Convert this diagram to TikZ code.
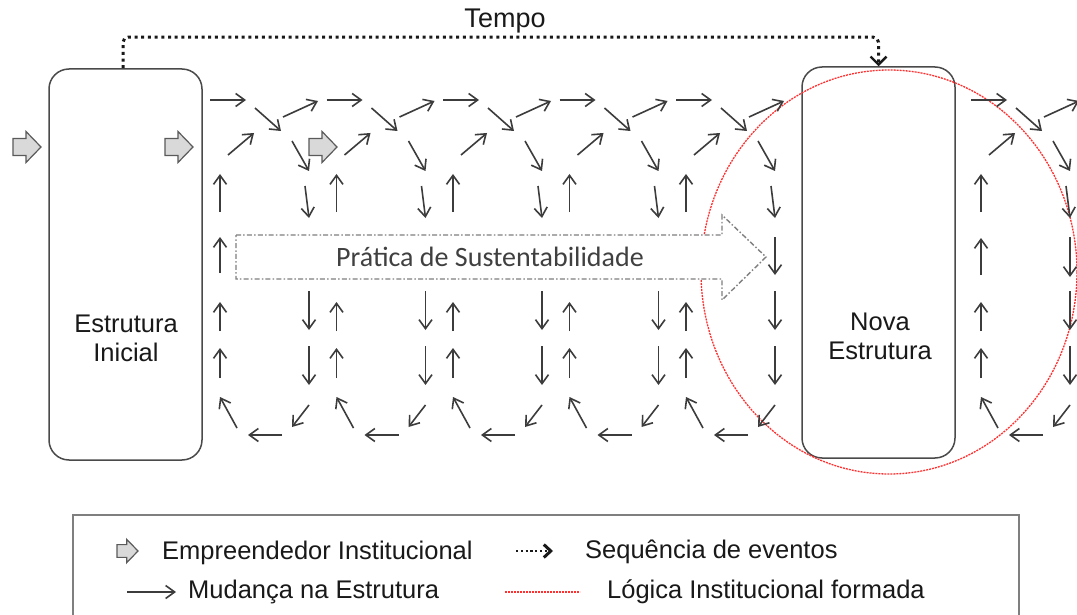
\documentclass[tikz,border=0pt]{standalone}
\usepackage{fontspec}
\setmainfont{Liberation Sans}
\newfontfamily\calib{Carlito}
\usetikzlibrary{arrows.meta}
\definecolor{arrgray}{HTML}{3C3C3C}
\definecolor{boxgray}{HTML}{4A4A4A}
\definecolor{dashgray}{HTML}{7F7F7F}
\definecolor{blockfill}{HTML}{D9D9D9}
\definecolor{blockline}{HTML}{5A5A5A}
\definecolor{logicred}{HTML}{FF3030}
\newcommand\loopunit[1]{%
  \pgfmathsetmacro\uu{#1}%
  \pgfmathsetmacro\dd{#1+89}%
  % up column
  \draw[sa] (\uu,212) -- (\uu,174);
  \draw[sa] (\uu,331) -- (\uu,302);
  \draw[sa] (\uu,378) -- (\uu,348);
  \draw[sa] (\uu+17,428) -- (\uu,397);
  \draw[sa] (\uu+8,155) -- (\uu+34,133);
  % top row
  \draw[sa] (\uu-10,100) -- (\uu+26,100);
  \draw[sa] (\uu+35,108) -- (\uu+61,131);
  \draw[sa] (\uu+63,117) -- (\uu+98,101);
  % down column
  \draw[sa] (\dd-17,141) -- (\dd,171);
  \draw[sa] (\dd-4,186) -- (\dd,218);
  \draw[sa] (\dd,291) -- (\dd,330);
  \draw[sa] (\dd,346) -- (\dd,385);
  \draw[sa] (\dd,405) -- (\dd-17,427);
  \draw[sa] (\dd-27,435) -- (\dd-61,435);
}
\begin{document}
\begin{tikzpicture}[x=1pt,y=-1pt,
  sa/.style={draw=arrgray, line width=1.6pt, -{Straight Barb[length=9pt,width=13pt]}},
  strbox/.style={draw=boxgray, line width=1.5pt, rounded corners=20pt, minimum width=153pt, minimum height=391pt, inner sep=0pt},
  boxlab/.style={font=\fontsize{25.5}{29}\selectfont, align=center, text=black!90, inner sep=0pt},
  leglab/.style={font=\fontsize{25.5}{29}\selectfont, anchor=west, text=black!90, inner sep=0pt},
  tempoline/.style={draw=black!90, line width=3pt, dash pattern=on 3pt off 3.7pt},
  redline/.style={draw=logicred, line width=1.3pt, dash pattern=on 2pt off 1pt},
  blockarr/.style={fill=blockfill, draw=blockline, line width=1.2pt, line join=miter},
  bigarr/.style={fill=white, draw=dashgray, line width=1.4pt, dash pattern=on 5pt off 2.2pt on 1.5pt off 2.2pt},
  pics/barrow/.style={code={
    \path[blockarr] (-28,-8.5) -- (-15,-8.5) -- (-15,-15.5) -- (0,0) -- (-15,15.5) -- (-15,8.5) -- (-28,8.5) -- cycle;}}
]
\clip (0,0) rectangle (1077,615);
\fill[white] (0,0) rectangle (1077,615);

% structure boxes
\node[strbox] (ini) at (125.5,264.5) {};
\node[strbox] (nova) at (878.5,262.5) {};
\node[boxlab] (iniL) at (126,338) {Estrutura\\Inicial};
\node[boxlab] (novaL) at (880,336) {Nova\\Estrutura};

% tempo
\node[font=\fontsize{27}{30}\selectfont, text=black!90, inner sep=0pt] (tempo) at (505,21) {Tempo};
\draw[tempoline, rounded corners=5pt, -{Straight Barb[length=8pt,width=16pt,line width=2.4pt]}]
  ([xshift=-2.5pt]ini.north) -- ++(0,-31) -| (nova.north);

% institutional logic
\draw[redline] (889,272) ellipse [x radius=188, y radius=202];

% practice arrow
\path[bigarr] (236,235) -- (722,235) -- (722,215) -- (766,257) -- (722,300) -- (722,279) -- (236,279) -- cycle;
\node[font=\calib\fontsize{28}{30}\selectfont, text=black!75, inner sep=0pt] (prat) at (490,257) {Prática de Sustentabilidade};

% entrepreneur arrows
\pic at (41,147) {barrow};
\pic at (193,147) {barrow};
\pic at (337,147) {barrow};

% small change arrows
\foreach \j in {0,...,4} { \loopunit{220+116.5*\j} }
\loopunit{981}
\draw[sa] (220,273) -- (220,237);
\draw[sa] (981,275) -- (981,238);
\draw[sa] (775,237) -- (775,275);
\draw[sa] (1070,237) -- (1070,277);

% legend
\draw[draw=dashgray, line width=1.5pt] (73,515) rectangle (1019,640);
\pic[scale=0.75] at (138,551) {barrow};
\node[leglab] (l1) at (162,553) {Empreendedor Institucional};
\draw[draw=black!90, line width=2.2pt, dash pattern=on 2.2pt off 2.6pt, -{Straight Barb[length=7pt,width=13pt,line width=3pt]}] (516,551) -- (553,551);
\node[leglab] (l2) at (585,552) {Sequência de eventos};
\draw[sa] (127,592) -- (176,592);
\node[leglab] (l3) at (188,592) {Mudança na Estrutura};
\draw[redline] (505,592) -- (580,592);
\node[leglab] (l4) at (607,592) {Lógica Institucional formada};
\end{tikzpicture}
\end{document}
